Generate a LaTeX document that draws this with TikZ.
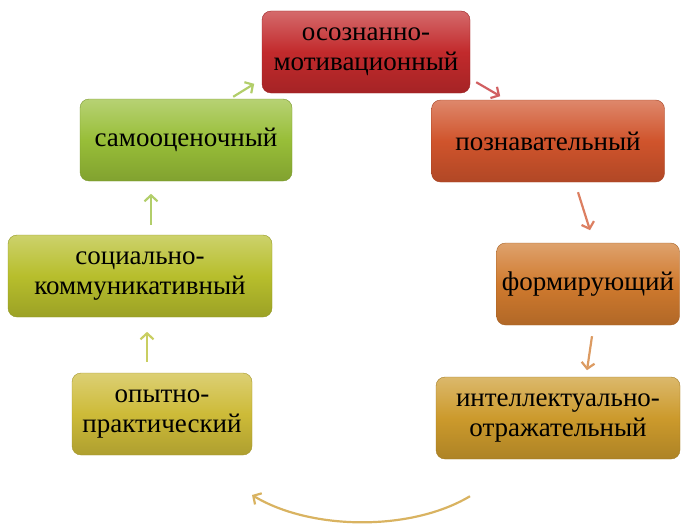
\documentclass[tikz,border=0pt]{standalone}
\usepackage{fontspec}
\setmainfont{Liberation Serif}
\usepackage{tikz}
\usetikzlibrary{arrows, arrows.meta, shapes, positioning, calc}

\definecolor{redbox}{HTML}{C22A2C}
\definecolor{rustbox}{HTML}{D0542C}
\definecolor{orangebox}{HTML}{D07A2E}
\definecolor{goldbox}{HTML}{CC9A2C}
\definecolor{yellowbox}{HTML}{CDBB38}
\definecolor{limebox}{HTML}{B7BE2C}
\definecolor{greenbox}{HTML}{98BE38}

\tikzset{
	stage/.style={rectangle, rounded corners=9, minimum height=82, align=center, draw=#1!80!black, thin, top color=#1!70!white, bottom color=#1!85!black, middle color=#1, font=\fontsize{27}{30}\selectfont, text=black},
	turn/.style={-{Straight Barb[length=6pt, width=13pt]}, line width=2.2pt, draw=#1}
}

\begin{document}
\begin{tikzpicture}[x=1pt, y=-1pt]
			\useasboundingbox (0,0) rectangle (684,527);
			
			\node[stage=redbox, minimum width=208] (motiv) at (366,52) {осознанно-\\мотивационный};
			
			\node[stage=rustbox, minimum width=233] (cogn) at (548,141) {познавательный};
			
			\node[stage=orangebox, minimum width=183] (form) at (588,284) {формирующий};
			
			\node[stage=goldbox, minimum width=244] (intel) at (558,418) {интеллектуально-\\отражательный};
			
			\node[stage=yellowbox, minimum width=180] (exper) at (162,414) {опытно-\\практический};
			
			\node[stage=limebox, minimum width=264] (social) at (140,276) {социально-\\коммуникативный};
			
			\node[stage=greenbox, minimum width=212] (self) at (186,140) {самооценочный};
			
			\coordinate (arcend) at (252,495);
			
			\draw[turn=redbox!75] ($(motiv.south east)+(6,-11)$) -- ($(motiv.south east)+(30,3)$);
			
			\draw[turn=rustbox!75] ($(cogn.south)+(30,10)$) -- ($(cogn.south)+(42,48)$);
			
			\draw[turn=orangebox!75] ($(form.south)+(4,11)$) -- ($(form.south)+(-1,45)$);
			
			\draw[turn=goldbox!75] ($(intel.south)+(-88,37)$) .. controls (410,532) and (310,530) .. (arcend);
			
			\draw[turn=limebox!75] ($(exper.north)+(-15,-11)$) -- ($(exper.north)+(-15,-41)$);
			
			\draw[turn=greenbox!75] ($(social.north)+(11,-10)$) -- ($(social.north)+(11,-41)$);
			
			\draw[turn=greenbox!75] ($(self.north east)+(-59,-2)$) -- ($(self.north east)+(-38,-15)$);
		\end{tikzpicture}
\end{document}
